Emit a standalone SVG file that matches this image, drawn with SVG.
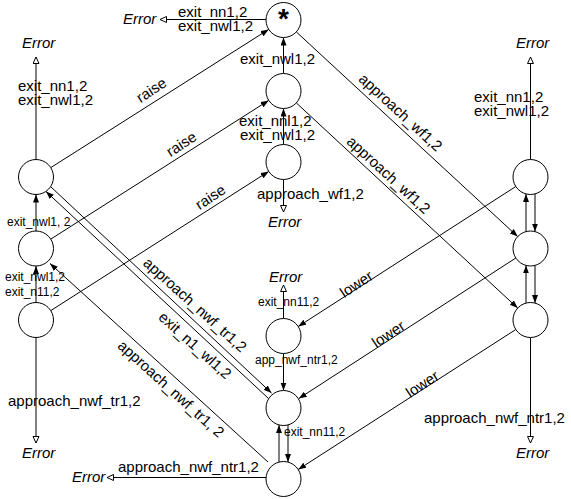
<svg xmlns="http://www.w3.org/2000/svg" width="571" height="499" viewBox="0 0 571 499">
  <style>
    text { font-family: "Liberation Sans", Arial, sans-serif; font-size: 15px; fill: #000; }
    .sm { font-size: 12px; }
    .err { font-style: italic; }
    .star { font-size: 28px; font-weight: bold; }
    .node circle { fill: #fff; stroke: #000; stroke-width: 1; }
    .a { fill: none; stroke: #000; stroke-width: 1; marker-end: url(#arrow); }
    .e { fill: none; stroke: #000; stroke-width: 1; marker-end: url(#open); }
  </style>
  <defs>
    <marker id="arrow" markerUnits="userSpaceOnUse" markerWidth="9" markerHeight="7" refX="8" refY="3" orient="auto">
      <path d="M0,0 L8,3 L0,6 z" fill="#000"/>
    </marker>
    <marker id="open" markerUnits="userSpaceOnUse" markerWidth="9" markerHeight="9" refX="7" refY="3.5" orient="auto">
      <path d="M0.5,0.5 L7,3.5 L0.5,6.5 z" fill="#fff" stroke="#000" stroke-width="1"/>
    </marker>
  </defs>

  <!-- transitions -->
  <g id="connectors">
    <path class="a" d="M50.8,167.6 L268.7,29.4"/>
    <path class="a" d="M50.8,239.1 L268.7,100.4"/>
    <path class="a" d="M50.8,310.6 L268.7,171.4"/>
    <path class="a" d="M296.3,31.9 L517.7,236.6"/>
    <path class="a" d="M296.3,102.9 L517.7,308.1"/>
    <path class="a" d="M51,187 L271.5,393"/>
    <path class="a" d="M268.5,398.5 L46,191.5"/>
    <path class="a" d="M268,462 L50,263.5"/>
    <path class="a" d="M515.8,186.5 L298.2,326.5"/>
    <path class="a" d="M515.8,258 L298.8,398.5"/>
    <path class="a" d="M515.8,329.5 L298.2,469.5"/>
    <path class="a" d="M283.5,73.5 L283.5,37.5"/>
    <path class="a" d="M283.5,144.5 L283.5,108.5"/>
    <path class="a" d="M36,231 L36,194.5"/>
    <path class="a" d="M36,302.5 L36,266"/>
    <path class="a" d="M526,231.6 L526,193.9"/>
    <path class="a" d="M535,193.9 L535,231.6"/>
    <path class="a" d="M526,303.1 L526,265.4"/>
    <path class="a" d="M535,265.4 L535,303.1"/>
    <path class="a" d="M283.5,353.5 L283.5,390.5"/>
    <path class="a" d="M279,462.1 L279,424.9"/>
    <path class="a" d="M288,424.9 L288,462.1"/>
    <!-- exits to the error state -->
    <path class="e" d="M266,19.5 L160,19.5"/>
    <path class="e" d="M36,159.5 L36,57"/>
    <path class="e" d="M530.5,159.5 L530.5,57"/>
    <path class="e" d="M283.5,179.5 L283.5,212"/>
    <path class="e" d="M283.5,318.5 L283.5,285"/>
    <path class="e" d="M36,337.5 L36,443"/>
    <path class="e" d="M530.5,337.5 L530.5,443"/>
    <path class="e" d="M266,477.5 L107,477.5"/>
  </g>

  <!-- states -->
  <g id="s-top" class="node"><circle cx="283.5" cy="20" r="17.5"/><text class="star" x="283.5" y="28" text-anchor="middle">*</text></g>
  <g id="s-m2" class="node"><circle cx="283.5" cy="91" r="17.5"/></g>
  <g id="s-m3" class="node"><circle cx="283.5" cy="162" r="17.5"/></g>
  <g id="s-m4" class="node"><circle cx="283.5" cy="336" r="17.5"/></g>
  <g id="s-m5" class="node"><circle cx="283.5" cy="408" r="17.5"/></g>
  <g id="s-m6" class="node"><circle cx="283.5" cy="479" r="17.5"/></g>
  <g id="s-l1" class="node"><circle cx="36" cy="177" r="17.5"/></g>
  <g id="s-l2" class="node"><circle cx="36" cy="248.5" r="17.5"/></g>
  <g id="s-l3" class="node"><circle cx="36" cy="320" r="17.5"/></g>
  <g id="s-r1" class="node"><circle cx="530.5" cy="177" r="17.5"/></g>
  <g id="s-r2" class="node"><circle cx="530.5" cy="248.5" r="17.5"/></g>
  <g id="s-r3" class="node"><circle cx="530.5" cy="320" r="17.5"/></g>

  <!-- error targets -->
  <g id="errors">
    <text class="err" x="123" y="23.5">Error</text>
    <text class="err" x="22" y="48">Error</text>
    <text class="err" x="516" y="48">Error</text>
    <text class="err" x="268" y="227">Error</text>
    <text class="err" x="269" y="282">Error</text>
    <text class="err" x="22" y="458">Error</text>
    <text class="err" x="516" y="458">Error</text>
    <text class="err" x="72" y="482">Error</text>
  </g>

  <!-- transition labels -->
  <g id="labels">
    <text x="178" y="17">exit_nn1,2</text>
    <text x="178" y="31">exit_nwl1,2</text>
    <text x="18" y="91">exit_nn1,2</text>
    <text x="18" y="105">exit_nwl1,2</text>
    <text x="474" y="101.5">exit_nn1,2</text>
    <text x="474" y="115.5">exit_nwl1,2</text>
    <text x="240" y="64">exit_nwl1,2</text>
    <text x="239" y="126">exit_nnl1,2</text>
    <text x="240" y="140">exit_nwl1,2</text>
    <text x="257" y="198.5">approach_wf1,2</text>
    <text x="8" y="406">approach_nwf_tr1,2</text>
    <text x="424" y="422.5">approach_nwf_ntr1,2</text>
    <text x="118" y="472">approach_nwf_ntr1,2</text>
    <text class="sm" x="7" y="225.5">exit_nwl1, 2</text>
    <text class="sm" x="5" y="280.5">exit_nwl1,2</text>
    <text class="sm" x="5" y="295.5">exit_n11,2</text>
    <text class="sm" x="258" y="305.5">exit_nn11,2</text>
    <text class="sm" x="255" y="364">app_nwf_ntr1,2</text>
    <text class="sm" x="284" y="435.5">exit_nn11,2</text>
    <text text-anchor="middle" transform="translate(154.2,94.3) rotate(-33)">raise</text>
    <text text-anchor="middle" transform="translate(184.2,148.3) rotate(-33)">raise</text>
    <text text-anchor="middle" transform="translate(213.2,201.3) rotate(-33)">raise</text>
    <text text-anchor="middle" transform="translate(397.1,116.2) rotate(42.5)">approach_wf1,2</text>
    <text text-anchor="middle" transform="translate(385.1,178.7) rotate(42.5)">approach_wf1,2</text>
    <text text-anchor="middle" transform="translate(191.6,308.7) rotate(42)">approach_nwf_tr1,2</text>
    <text text-anchor="middle" transform="translate(191.6,349.2) rotate(42)">exit_n1_wl1,2</text>
    <text text-anchor="middle" transform="translate(167.6,392.7) rotate(42)">approach_nwf_tr1, 2</text>
    <text text-anchor="middle" transform="translate(359.2,288.3) rotate(-33.5)">lower</text>
    <text text-anchor="middle" transform="translate(391.2,338.3) rotate(-33.5)">lower</text>
    <text text-anchor="middle" transform="translate(425.2,388.3) rotate(-33.5)">lower</text>
  </g>
</svg>
